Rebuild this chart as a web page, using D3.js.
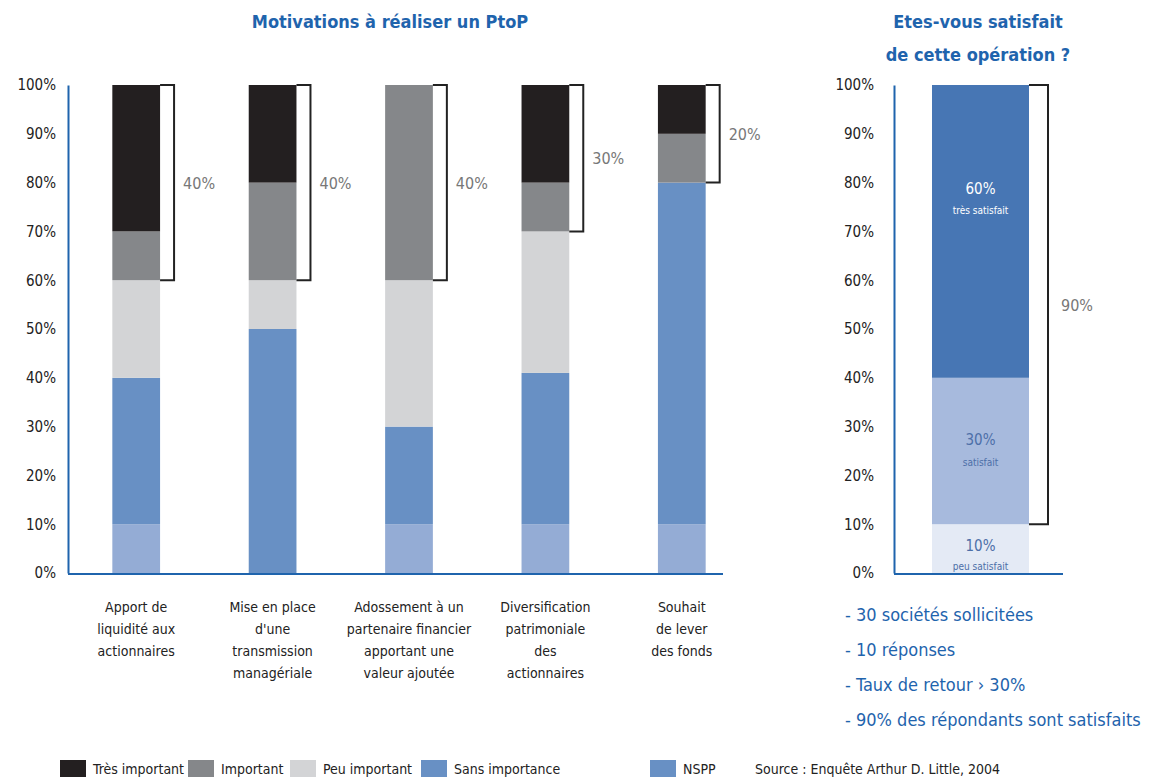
<!DOCTYPE html>
<html><head><meta charset="utf-8">
<script src="https://cdn.jsdelivr.net/npm/d3@7"></script>
<style>
body{margin:0;background:#fff;}
svg text{font-family:"Liberation Sans Narrow","DejaVu Sans Condensed","Roboto Condensed",Arial,sans-serif;font-stretch:condensed;}
</style></head>
<body><svg id="c" width="1161" height="783"></svg>
<script>
const categories = [
  ["Apport de","liquidité aux","actionnaires"],
  ["Mise en place","d'une","transmission","managériale"],
  ["Adossement à un","partenaire financier","apportant une","valeur ajoutée"],
  ["Diversification","patrimoniale","des","actionnaires"],
  ["Souhait","de lever","des fonds"]
];
const seriesNames = ["NSPP","Sans importance","Peu important","Important","Très important"];
const nspp          = [10, 0, 10, 10, 10];
const sansImport    = [30, 50, 20, 31, 70];
const peuImportant  = [20, 10, 30, 29, 0];
const important     = [10, 20, 40, 10, 10];
const tresImportant = [30, 20, 0, 20, 10];
const bracketValues = [40, 40, 40, 30, 20];
const yTicks = [0,10,20,30,40,50,60,70,80,90,100];

const satisCats = ["peu satisfait","satisfait","très satisfait"];
const satisValues = [10, 30, 60];
const satisBracket = 90;
const notes = ["- 30 sociétés sollicitées","- 10 réponses","- Taux de retour › 30%","- 90% des répondants sont satisfaits"];
const legendOrder = ["Très important","Important","Peu important","Sans importance","NSPP"];
const sourceText = "Source : Enquête Arthur D. Little, 2004";

const colors = {"Très important":"#231f20","Important":"#85878a","Peu important":"#d3d4d6","Sans importance":"#6890c4","NSPP":"#94acd5"};
const legendColors = {"Très important":"#231f20","Important":"#85878a","Peu important":"#d3d4d6","Sans importance":"#6890c4","NSPP":"#6890c4"};
const satisColors = ["#e4eaf5","#a7badd","#4776b4"];
const satisText = ["#4d6fa8","#4d6fa8","#ffffff"];
const blue = "#1f64ad";

const svg = d3.select("#c");
const y = d3.scaleLinear().domain([0,100]).range([573,85]);
const x = d3.scaleBand().domain(d3.range(categories.length)).range([68,750]).paddingInner(0.65).paddingOuter(0.325);

// titles
svg.append("text").attr("x",390).attr("y",28).attr("text-anchor","middle").attr("fill",blue)
  .attr("font-size",18).attr("font-weight","bold").text("Motivations à réaliser un PtoP");
svg.append("text").attr("x",978).attr("y",28).attr("text-anchor","middle").attr("fill",blue)
  .attr("font-size",18).attr("font-weight","bold").text("Etes-vous satisfait");
svg.append("text").attr("x",978).attr("y",61).attr("text-anchor","middle").attr("fill",blue)
  .attr("font-size",18).attr("font-weight","bold").text("de cette opération ?");

// stacked data
const rows = categories.map((c,i)=>({i, "NSPP":nspp[i],"Sans importance":sansImport[i],"Peu important":peuImportant[i],"Important":important[i],"Très important":tresImportant[i]}));
const stack = d3.stack().keys(seriesNames)(rows);
const g = svg.append("g");
stack.forEach(s=>{
  g.selectAll(null).data(s).enter().append("rect")
    .attr("x",d=>x(d.data.i)).attr("width",x.bandwidth())
    .attr("y",d=>y(d[1])).attr("height",d=>y(d[0])-y(d[1]))
    .attr("fill",colors[s.key]);
});

// brackets
bracketValues.forEach((v,i)=>{
  const x0 = x(i)+x.bandwidth(), x1 = x0+14;
  g.append("path").attr("d",`M${x0},${y(100)}H${x1}V${y(100-v)}H${x0}`)
    .attr("fill","none").attr("stroke","#222").attr("stroke-width",2);
  g.append("text").attr("x",x1+9).attr("y",y(100-v/2)+6).attr("fill","#777")
    .attr("font-size",16).text(v+"%");
});

// left axes
const yAxisL = svg.append("g").attr("transform","translate(68,0)")
  .call(d3.axisLeft(y).tickValues(yTicks).tickFormat(d=>d+"%").tickSize(0).tickPadding(12));
yAxisL.select(".domain").attr("stroke",blue).attr("stroke-width",2);
yAxisL.selectAll("text").attr("font-size",15).attr("fill","#222").attr("font-family",null);
svg.append("line").attr("x1",68).attr("x2",723).attr("y1",574).attr("y2",574).attr("stroke",blue).attr("stroke-width",2);

// category labels
categories.forEach((lines,i)=>{
  const t = svg.append("text").attr("text-anchor","middle").attr("font-size",14).attr("fill","#222");
  lines.forEach((l,k)=>t.append("tspan").attr("x",x(i)+x.bandwidth()/2).attr("y",612+k*22).text(l));
});

// right chart
const xr = d3.scaleBand().domain(["satis"]).range([932,1029]);
let cum = 0;
const satisStack = satisValues.map((v,i)=>{const o={v,i,y0:cum,y1:cum+v}; cum+=v; return o;});
svg.selectAll(null).data(satisStack).enter().append("rect")
  .attr("x",xr("satis")).attr("width",xr.bandwidth())
  .attr("y",d=>y(d.y1)).attr("height",d=>y(d.y0)-y(d.y1)).attr("fill",d=>satisColors[d.i]);
const labelY = [ [y(3)-7, y(3)+12], [y(24)-11, y(24)+10], [y(78)+2, y(78)+22] ];
satisStack.forEach(d=>{
  const cx = xr("satis")+xr.bandwidth()/2;
  svg.append("text").attr("x",cx).attr("y",labelY[d.i][0]).attr("text-anchor","middle").attr("fill",satisText[d.i])
    .attr("font-size",15).text(d.v+"%");
  svg.append("text").attr("x",cx).attr("y",labelY[d.i][1]).attr("text-anchor","middle").attr("fill",satisText[d.i])
    .attr("font-size",10).text(satisCats[d.i]);
});
{
  const x0 = xr("satis")+xr.bandwidth(), x1 = 1048;
  svg.append("path").attr("d",`M${x0},${y(100)}H${x1}V${y(100-satisBracket)}H${x0}`)
    .attr("fill","none").attr("stroke","#222").attr("stroke-width",2);
  svg.append("text").attr("x",x1+13).attr("y",y(100-satisBracket/2)+6).attr("fill","#777")
    .attr("font-size",16).text(satisBracket+"%");
}
const yAxisR = svg.append("g").attr("transform","translate(894,0)")
  .call(d3.axisLeft(y).tickValues(yTicks).tickFormat(d=>d+"%").tickSize(0).tickPadding(20));
yAxisR.select(".domain").attr("stroke",blue).attr("stroke-width",2);
yAxisR.selectAll("text").attr("font-size",15).attr("fill","#222").attr("font-family",null);
svg.append("line").attr("x1",894).attr("x2",1063).attr("y1",574).attr("y2",574).attr("stroke",blue).attr("stroke-width",2);

// notes
notes.forEach((n,k)=>svg.append("text").attr("x",845).attr("y",621+k*35).attr("fill",blue).attr("font-size",18).text(n));

// legend
const legendX = [60,188,290,421,650];
legendOrder.forEach((n,k)=>{
  svg.append("rect").attr("x",legendX[k]).attr("y",760).attr("width",26).attr("height",17).attr("fill",legendColors[n]);
  svg.append("text").attr("x",legendX[k]+33).attr("y",774).attr("font-size",14).attr("fill","#222").text(n);
});
svg.append("text").attr("x",755).attr("y",774).attr("font-size",14).attr("fill","#222").text(sourceText);
</script></body></html>
